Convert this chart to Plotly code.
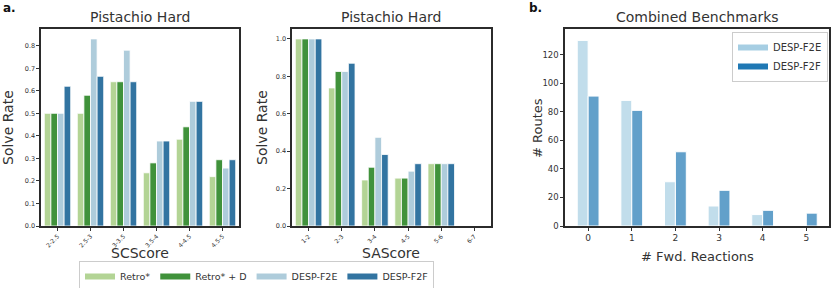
import plotly.graph_objects as go

# ---------------- data ----------------
sc_categories = ["2-2.5", "2.5-3", "3-3.5", "3.5-4", "4-4.5", "4.5-5"]
sc_retro = [0.50, 0.50, 0.64, 0.236, 0.385, 0.219]
sc_retro_d = [0.50, 0.58, 0.64, 0.28, 0.44, 0.294]
sc_f2e = [0.50, 0.83, 0.78, 0.377, 0.553, 0.257]
sc_f2f = [0.62, 0.664, 0.64, 0.377, 0.553, 0.294]

sa_categories = ["1-2", "2-3", "3-4", "4-5", "5-6", "6-7"]
sa_retro = [1.0, 0.738, 0.246, 0.256, 0.333, 0.0]
sa_retro_d = [1.0, 0.826, 0.314, 0.256, 0.333, 0.0]
sa_f2e = [1.0, 0.826, 0.474, 0.293, 0.333, 0.0]
sa_f2f = [1.0, 0.87, 0.382, 0.333, 0.333, 0.0]

fwd_reactions = [0, 1, 2, 3, 4, 5]
routes_f2e = [130, 88, 31, 14, 8, 0]
routes_f2f = [91, 81, 52, 25, 11, 9]

series_names = ["Retro*", "Retro* + D", "DESP-F2E", "DESP-F2F"]
series_colors = ["#b3d495", "#40923b", "#aeccdb", "#3274a1"]
b_names = ["DESP-F2E", "DESP-F2F"]
b_colors_solid = ["#a6cee3", "#1f78b4"]
b_colors_bar = ["rgba(166,206,227,0.7)", "rgba(31,120,180,0.7)"]

FONT = "DejaVu Sans"
TXT = "#333333"
W, H = 831, 288

fig = go.Figure()

offsets4 = [-0.4, -0.2, 0.0, 0.2]
for name, col, vals, off in zip(series_names, series_colors,
                                [sc_retro, sc_retro_d, sc_f2e, sc_f2f], offsets4):
    fig.add_trace(go.Bar(x=sc_categories, y=vals, width=0.2, offset=off,
                         marker=dict(color=col, line=dict(color="white", width=0.8)),
                         showlegend=False, xaxis="x", yaxis="y", name=name))
for name, col, vals, off in zip(series_names, series_colors,
                                [sa_retro, sa_retro_d, sa_f2e, sa_f2f], offsets4):
    fig.add_trace(go.Bar(x=sa_categories, y=vals, width=0.2, offset=off,
                         marker=dict(color=col, line=dict(color="white", width=0.8)),
                         showlegend=False, xaxis="x2", yaxis="y2", name=name))
for name, col in zip(series_names, series_colors):
    fig.add_trace(go.Scatter(x=[None], y=[None], mode="lines", name=name,
                             line=dict(color=col, width=6), legend="legend",
                             xaxis="x", yaxis="y"))

for name, col, vals, off in zip(b_names, b_colors_bar, [routes_f2e, routes_f2f], [-0.25, 0.0]):
    fig.add_trace(go.Bar(x=fwd_reactions, y=vals, width=0.25, offset=off,
                         marker=dict(color=col, line=dict(color="white", width=1)),
                         showlegend=False, xaxis="x3", yaxis="y3", name=name))
for name, col in zip(b_names, b_colors_solid):
    fig.add_trace(go.Scatter(x=[None], y=[None], mode="lines", name=name,
                             line=dict(color=col, width=6), legend="legend2",
                             xaxis="x3", yaxis="y3"))

ydom = [1 - 226 / H, 1 - 29 / H]
axis_common = dict(showline=True, mirror=True, linecolor="#2b2b2b", linewidth=1.6,
                   showgrid=False, zeroline=False, ticks="outside", ticklen=3,
                   tickwidth=1, tickcolor="#333333")

fig.update_layout(
    width=W, height=H,
    margin=dict(l=0, r=0, t=0, b=0, autoexpand=False),
    paper_bgcolor="white", plot_bgcolor="white",
    font=dict(family=FONT, color=TXT),
    barmode="group",
    hovermode=False,
    xaxis=dict(domain=[41 / W, 239 / W], anchor="y", type="category",
               range=[-0.5, 5.5], tickangle=-45, tickfont=dict(size=6, color=TXT), **axis_common),
    yaxis=dict(domain=ydom, anchor="x", range=[0, 0.874], dtick=0.1,
               tickformat=".1f", tickfont=dict(size=6.5), **axis_common),
    xaxis2=dict(domain=[292 / W, 491 / W], anchor="y2", type="category",
                range=[-0.5, 5.5], tickangle=-45, tickfont=dict(size=6, color=TXT), **axis_common),
    yaxis2=dict(domain=ydom, anchor="x2", range=[0, 1.053], dtick=0.2,
                tickformat=".1f", tickfont=dict(size=6.5), **axis_common),
    xaxis3=dict(domain=[565 / W, 829 / W], anchor="y3", range=[-0.53, 5.52],
                tickvals=fwd_reactions, tickfont=dict(size=9), **axis_common),
    yaxis3=dict(domain=ydom, anchor="x3", range=[0, 138], dtick=20,
                tickfont=dict(size=8.5), **axis_common),
    legend=dict(orientation="h", x=79 / W, y=-4 / H, xanchor="left", yanchor="bottom",
                bordercolor="#cccccc", borderwidth=1, bgcolor="white",
                font=dict(size=9.5, color=TXT), tracegroupgap=0),
    legend2=dict(orientation="v", x=828 / W, y=1 - 32 / H, xanchor="right", yanchor="top",
                 bordercolor="#cccccc", borderwidth=1, bgcolor="white",
                 font=dict(size=10, color=TXT), tracegroupgap=0),
)

ann = []
def add_text(text, x, y, size, angle=0, bold=False, xanchor="center"):
    ann.append(dict(text=("<b>%s</b>" % text) if bold else text, x=x / W, y=1 - y / H,
                    xref="paper", yref="paper", showarrow=False, textangle=angle,
                    font=dict(size=size, color=TXT if not bold else "#111111", family=FONT),
                    xanchor=xanchor, yanchor="middle"))

add_text("Pistachio Hard", 140, 17, 14)
add_text("Pistachio Hard", 391, 17, 14)
add_text("Combined Benchmarks", 697, 17, 14)
add_text("SCScore", 140, 253, 14)
add_text("SAScore", 391, 253, 14)
add_text("# Fwd. Reactions", 697, 256, 13)
add_text("Solve Rate", 8, 128, 14, angle=-90)
add_text("Solve Rate", 262, 128, 14, angle=-90)
add_text("# Routes", 537, 128, 13, angle=-90)
add_text("a.", 1, 8, 12, bold=True, xanchor="left")
add_text("b.", 527, 8, 12, bold=True, xanchor="left")
fig.update_layout(annotations=ann)

# remove the default page margin synchronously (runs while the page is parsed)
page_fix = ("}); document.body.style.margin='0'; "
            "document.body.style.overflow='hidden'; (function(){")
fig.write_html("out.html", config={"displayModeBar": False, "staticPlot": True},
               post_script=page_fix)
